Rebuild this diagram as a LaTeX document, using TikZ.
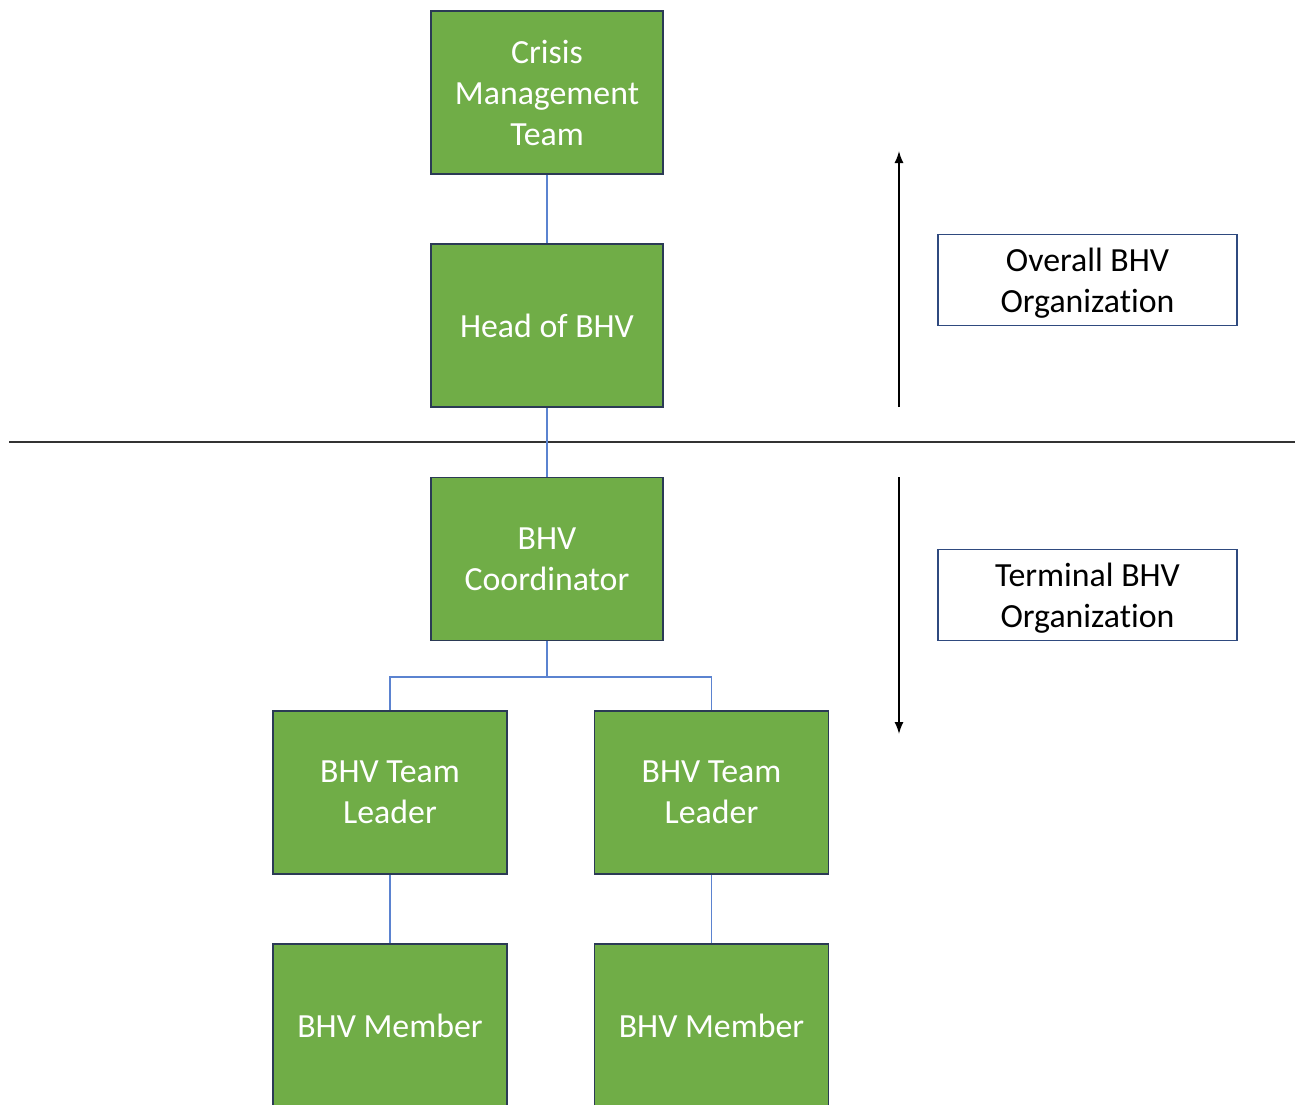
\documentclass[tikz,border=0pt]{standalone}
\usepackage{fontspec}
\setmainfont{Carlito}[Ligatures=NoCommon]
\usetikzlibrary{arrows.meta}
\definecolor{boxgreen}{HTML}{70AD47}
\definecolor{boxline}{HTML}{2B3A55}
\definecolor{linkblue}{HTML}{5B83D0}
\definecolor{labelline}{HTML}{2F4A7F}
\definecolor{divider}{HTML}{333333}
\tikzset{
  rolebox/.style={draw=boxline, fill=boxgreen, line width=1.6pt,
    minimum width=232pt, minimum height=163pt, inner sep=0pt,
    text=white, align=center, font=\fontsize{33.8}{41}\selectfont},
  widebox/.style={rolebox, minimum width=234pt},
  labelbox/.style={draw=labelline, fill=white, line width=1.3pt,
    minimum width=299pt, minimum height=91pt, inner sep=0pt},
  labeltext/.style={inner sep=0pt, text=black, align=center,
    font=\fontsize{33.8}{41}\selectfont},
  link/.style={draw=linkblue, line width=1.4pt},
  scalearrow/.style={draw=black, line width=1.5pt,
    -{Latex[length=12pt,width=9pt]}},
}
\begin{document}
\begin{tikzpicture}[x=1pt, y=-1pt]
  \useasboundingbox (0,0) rectangle (1302,1104);
  \clip (0,0) rectangle (1302,1104);

  % divider between the overall and the terminal organization
  \coordinate (hlL) at (9,442);
  \coordinate (hlR) at (1295,442);
  \draw[divider, line width=2pt] (hlL) -- (hlR);

  % role hierarchy
  \node[rolebox] (cmt)   at (547,92.5)  {Crisis\\Management\\Team};
  \node[rolebox] (head)  at (547,325.5) {Head of BHV};
  \node[rolebox] (coord) at (547,559)   {BHV\\Coordinator};
  \node[widebox] (tl1)   at (390,792.5) {BHV Team\\Leader};
  \node[widebox] (tl2)   at (711.5,792.5) {BHV Team\\Leader};
  \node[widebox] (mem1)  at (390,1025.5) {BHV Member};
  \node[widebox] (mem2)  at (711.5,1025.5) {BHV Member};

  % reporting lines
  \coordinate (bus) at (547,677);
  \draw[link] (cmt.south) -- (head.north);
  \draw[link] (head.south) -- (coord.north);
  \draw[link] (coord.south) -- (bus) -| (tl1.north);
  \draw[link] (bus) -| (tl2.north);
  \draw[link] (tl1.south) -- (mem1.north);
  \draw[link] (tl2.south) -- (mem2.north);

  % scope indicators
  \coordinate (upFrom) at (899,407);
  \coordinate (upTo)   at (899,151);
  \coordinate (dnFrom) at (899,477);
  \coordinate (dnTo)   at (899,734);
  \draw[scalearrow] (upFrom) -- (upTo);
  \draw[scalearrow] (dnFrom) -- (dnTo);

  \node[labelbox] (overall)  at (1087.5,280) {};
  \node[labeltext] (overallText) at ([yshift=-3.5pt]overall.center)
    {Overall BHV\\Organization};
  \node[labelbox] (terminal) at (1087.5,595) {};
  \node[labeltext] (terminalText) at ([yshift=-3.5pt]terminal.center)
    {Terminal BHV\\Organization};
\end{tikzpicture}
\end{document}
